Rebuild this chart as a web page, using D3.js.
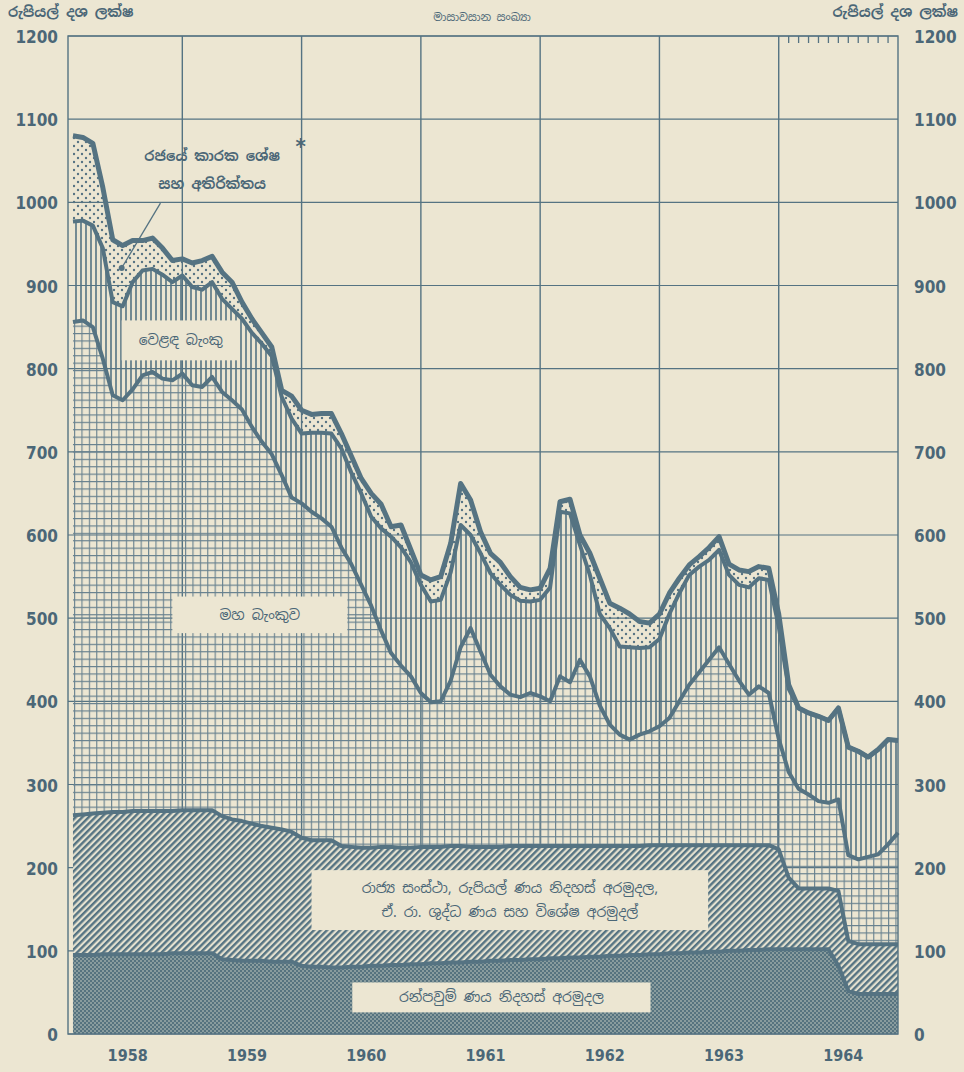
<!DOCTYPE html>
<html>
<head>
<meta charset="utf-8">
<script src="https://cdn.jsdelivr.net/npm/d3@7"></script>
<style>
  body { margin: 0; background: #ece6d2; }
  svg { display: block; }
</style>
</head>
<body>
<svg width="964" height="1072"></svg>
<script>
// month-end figures, Jan 1958 .. Dec 1964 (Rs. million)
const months = d3.range(1, 85);
const years = ["1958", "1959", "1960", "1961", "1962", "1963", "1964"];
const yTicks = d3.range(0, 1300, 100);

const sinking = [
  95, 95, 95, 96, 96, 96, 96, 96, 96, 96, 97, 97,
  97, 97, 97, 90, 89, 88, 88, 88, 87, 87, 87, 82,
  81, 81, 80, 80, 81, 81, 82, 82, 83, 83, 84, 84,
  85, 85, 86, 86, 87, 87, 88, 88, 89, 89, 90, 90,
  91, 91, 92, 92, 93, 93, 94, 94, 95, 95, 96, 96,
  97, 97, 98, 98, 99, 99, 100, 100, 101, 101, 102, 102,
  102, 102, 102, 102, 102, 82, 52, 48, 48, 48, 48, 48
];
const stateInst = [
  168, 169, 170, 170, 171, 171, 172, 172, 172, 172, 171, 172,
  172, 172, 172, 172, 169, 168, 165, 162, 161, 159, 156, 154,
  152, 152, 153, 146, 144, 143, 142, 143, 142, 141, 140, 141,
  140, 140, 140, 140, 138, 138, 137, 137, 137, 137, 136, 136,
  135, 135, 134, 134, 133, 133, 132, 132, 131, 131, 131, 131,
  130, 130, 129, 129, 128, 128, 127, 127, 126, 126, 125, 120,
  86, 73, 73, 73, 73, 90, 60, 60, 60, 60, 60, 60
];
const centralBank = [
  593, 594, 585, 546, 501, 495, 507, 524, 528, 520, 518, 525,
  511, 509, 521, 510, 504, 495, 477, 462, 449, 426, 402, 402,
  395, 387, 377, 359, 340, 316, 291, 260, 233, 219, 206, 185,
  174, 175, 199, 239, 263, 235, 207, 193, 182, 179, 184, 180,
  174, 204, 197, 224, 204, 169, 146, 134, 128, 134, 137, 143,
  153, 173, 193, 208, 223, 238, 218, 198, 181, 191, 183, 133,
  127, 120, 113, 105, 103, 110, 103, 102, 105, 108, 120, 134
];
const commercial = [
  121, 120, 122, 133, 112, 113, 129, 126, 124, 125, 118, 118,
  118, 117, 114, 112, 110, 109, 113, 118, 118, 94, 95, 84,
  95, 103, 112, 119, 110, 110, 107, 123, 140, 142, 137, 130,
  121, 122, 130, 147, 112, 118, 122, 122, 120, 116, 110, 116,
  137, 198, 203, 138, 122, 110, 116, 106, 111, 104, 101, 105,
  125, 130, 132, 127, 120, 117, 107, 115, 129, 130, 136, 135,
  100, 97, 98, 102, 99, 110, 130, 130, 120, 126, 126, 111
];
const govCash = [
  103, 100, 99, 73, 75, 73, 50, 36, 37, 32, 26, 20,
  29, 35, 31, 32, 32, 20, 17, 13, 11, 8, 27, 28,
  22, 23, 24, 18, 20, 18, 28, 29, 12, 27, 15, 12,
  26, 28, 35, 50, 42, 26, 24, 27, 22, 16, 14, 14,
  23, 12, 17, 12, 26, 43, 30, 46, 40, 32, 29, 30,
  25, 18, 12, 12, 15, 16, 13, 18, 19, 14, 14, 15,
  5, 0, 0, 0, 0, 0, 0, 0, 0, 0, 0, 0
];

const keys = ["sinking", "stateInst", "centralBank", "commercial", "govCash"];
const table = months.map((m, i) => ({
  m,
  sinking: sinking[i],
  stateInst: stateInst[i],
  centralBank: centralBank[i],
  commercial: commercial[i],
  govCash: govCash[i]
}));

const bg = "#ece6d2";
const ink = "#557382";
const textInk = "#4b6777";

const svg = d3.select("svg");
const x = d3.scaleLinear().domain([0.5, 84]).range([68, 898]);
const y = d3.scaleLinear().domain([0, 1200]).range([1034, 36]);

// patterns
const defs = svg.append("defs");

const pSink = defs.append("pattern").attr("id", "pSink")
  .attr("patternUnits", "userSpaceOnUse").attr("width", 4).attr("height", 4);
pSink.append("rect").attr("width", 4).attr("height", 4).attr("fill", "#56737f");
pSink.append("circle").attr("cx", 1).attr("cy", 1).attr("r", 0.75).attr("fill", "#d6d9cc");
pSink.append("circle").attr("cx", 3).attr("cy", 3).attr("r", 0.75).attr("fill", "#d6d9cc");

const pHatch = defs.append("pattern").attr("id", "pHatch")
  .attr("patternUnits", "userSpaceOnUse").attr("width", 4.6).attr("height", 4.6)
  .attr("patternTransform", "rotate(45)");
pHatch.append("rect").attr("width", 4.6).attr("height", 4.6).attr("fill", "#e4e1d0");
pHatch.append("line").attr("x1", 1.2).attr("x2", 1.2).attr("y1", 0).attr("y2", 4.6)
  .attr("stroke", ink).attr("stroke-width", 2.4);

const pGrid = defs.append("pattern").attr("id", "pGrid")
  .attr("patternUnits", "userSpaceOnUse").attr("width", 7.4).attr("height", 7.4);
pGrid.append("path").attr("d", "M0,0.6H7.4M0.6,0V7.4")
  .attr("stroke", "#66808e").attr("stroke-width", 1.1).attr("fill", "none");

const pVert = defs.append("pattern").attr("id", "pVert")
  .attr("patternUnits", "userSpaceOnUse").attr("width", 5).attr("height", 5);
pVert.append("line").attr("x1", 1).attr("x2", 1).attr("y1", 0).attr("y2", 5)
  .attr("stroke", ink).attr("stroke-width", 1.6);

const pDots = defs.append("pattern").attr("id", "pDots")
  .attr("patternUnits", "userSpaceOnUse").attr("width", 8).attr("height", 8);
pDots.append("circle").attr("cx", 2).attr("cy", 2).attr("r", 1.2).attr("fill", ink);
pDots.append("circle").attr("cx", 6).attr("cy", 6).attr("r", 1.2).attr("fill", ink);

const fills = {
  sinking: "url(#pSink)",
  stateInst: "url(#pHatch)",
  centralBank: "url(#pGrid)",
  commercial: "url(#pVert)",
  govCash: "url(#pDots)"
};

// grid
const grid = svg.append("g");
grid.selectAll("line.h").data(yTicks).join("line")
  .attr("x1", x.range()[0]).attr("x2", x.range()[1])
  .attr("y1", d => y(d)).attr("y2", d => y(d))
  .attr("stroke", ink).attr("stroke-width", 1.2);
grid.selectAll("line.v").data(d3.range(12, 84, 12)).join("line")
  .attr("x1", d => x(d)).attr("x2", d => x(d))
  .attr("y1", y(1200)).attr("y2", y(0))
  .attr("stroke", ink).attr("stroke-width", 1.4);

// stacked areas
const series = d3.stack().keys(keys)(table);
const area = d3.area().x(d => x(d.data.m)).y0(d => y(d[0])).y1(d => y(d[1]));
const line = d3.line().x(d => x(d.data.m)).y(d => y(d[1]));

svg.append("g").selectAll("path").data(series).join("path")
  .attr("d", area)
  .attr("fill", d => fills[d.key]);

svg.append("g").selectAll("path").data(series).join("path")
  .attr("d", line)
  .attr("fill", "none")
  .attr("stroke", ink)
  .attr("stroke-linejoin", "round")
  .attr("stroke-width", d => d.key === "govCash" ? 5 : 4);

// frame
svg.append("rect")
  .attr("x", x.range()[0]).attr("y", y(1200))
  .attr("width", x.range()[1] - x.range()[0]).attr("height", y(0) - y(1200))
  .attr("fill", "none").attr("stroke", ink).attr("stroke-width", 1.4);

// monthly ticks at top of 1964
svg.append("g").selectAll("line").data(d3.range(73, 84)).join("line")
  .attr("x1", d => x(d)).attr("x2", d => x(d))
  .attr("y1", y(1200)).attr("y2", y(1200) + 7)
  .attr("stroke", ink).attr("stroke-width", 1.3);

// axis labels
const numFont = "'DejaVu Sans Condensed', 'DejaVu Sans', sans-serif";
svg.append("g").selectAll("text").data(yTicks).join("text")
  .attr("x", 58).attr("y", d => y(d) + 7)
  .attr("text-anchor", "end")
  .attr("font-family", numFont).attr("font-weight", "bold").attr("font-size", 17)
  .attr("fill", textInk)
  .text(d => d);
svg.append("g").selectAll("text").data(yTicks).join("text")
  .attr("x", 914).attr("y", d => y(d) + 7)
  .attr("text-anchor", "start")
  .attr("font-family", numFont).attr("font-weight", "bold").attr("font-size", 17)
  .attr("fill", textInk)
  .text(d => d);
svg.append("g").selectAll("text").data(years).join("text")
  .attr("x", (d, i) => x(i * 12 + 6.5)).attr("y", 1061)
  .attr("text-anchor", "middle")
  .attr("font-family", numFont).attr("font-weight", "bold").attr("font-size", 16)
  .attr("fill", textInk)
  .text(d => d);

const sinFont = "'Noto Sans Sinhala', 'Noto Sans', 'DejaVu Sans', sans-serif";
svg.append("text").attr("x", 8).attr("y", 17)
  .attr("font-family", sinFont).attr("font-size", 14).attr("font-weight", "bold")
  .attr("fill", textInk).text("රුපියල් දශ ලක්ෂ");
svg.append("text").attr("x", 958).attr("y", 17).attr("text-anchor", "end")
  .attr("font-family", sinFont).attr("font-size", 14).attr("font-weight", "bold")
  .attr("fill", textInk).text("රුපියල් දශ ලක්ෂ");
svg.append("text").attr("x", 482).attr("y", 21).attr("text-anchor", "middle")
  .attr("font-family", sinFont).attr("font-size", 11)
  .attr("fill", textInk).text("මාසාවසාන සංඛ්‍යා");

// in-chart labels with cleared boxes
function labelBox(m0, m1, v0, v1, lines, size) {
  const g = svg.append("g");
  g.append("rect")
    .attr("x", x(m0)).attr("y", y(v0))
    .attr("width", x(m1) - x(m0)).attr("height", y(v1) - y(v0))
    .attr("fill", bg);
  const cx = (x(m0) + x(m1)) / 2;
  const cy = (y(v0) + y(v1)) / 2;
  const lh = size * 1.75;
  g.selectAll("text").data(lines).join("text")
    .attr("x", cx)
    .attr("y", (d, i) => cy + (i - (lines.length - 1) / 2) * lh + size * 0.35)
    .attr("text-anchor", "middle")
    .attr("font-family", sinFont).attr("font-size", size)
    .attr("fill", textInk)
    .text(d => d);
}

labelBox(5.9, 17.8, 858, 810, ["වෙළඳ බැංකු"], 14);
labelBox(11.0, 28.6, 526, 482, ["මහ බැංකුව"], 14);
labelBox(25.0, 64.9, 197, 125,
  ["රාජ්‍ය සංස්ථා, රුපියල් ණය නිදහස් අරමුදල,", "ඒ. රා. ශුද්ධ ණය සහ විශේෂ අරමුදල්"], 14);
labelBox(29.1, 59.1, 62, 26, ["රන්පවුම් ණය නිදහස් අරමුදල"], 14);

// government cash balances label with leader
const gov = svg.append("g");
gov.selectAll("text").data(["රජයේ කාරක ශේෂ", "සහ අතිරික්තය"]).join("text")
  .attr("x", x(15)).attr("y", (d, i) => y(1050) + i * 28)
  .attr("text-anchor", "middle")
  .attr("font-family", sinFont).attr("font-size", 14).attr("font-weight", "bold")
  .attr("fill", textInk)
  .text(d => d);
gov.append("text").attr("x", x(23.9)).attr("y", y(1058))
  .attr("text-anchor", "middle")
  .attr("font-family", numFont).attr("font-weight", "bold").attr("font-size", 22)
  .attr("fill", textInk).text("*");
gov.append("line")
  .attr("x1", x(9.8)).attr("y1", y(999))
  .attr("x2", x(5.9)).attr("y2", y(921))
  .attr("stroke", ink).attr("stroke-width", 1.3);
gov.append("circle").attr("cx", x(5.9)).attr("cy", y(921)).attr("r", 3).attr("fill", ink);
</script>
</body>
</html>
